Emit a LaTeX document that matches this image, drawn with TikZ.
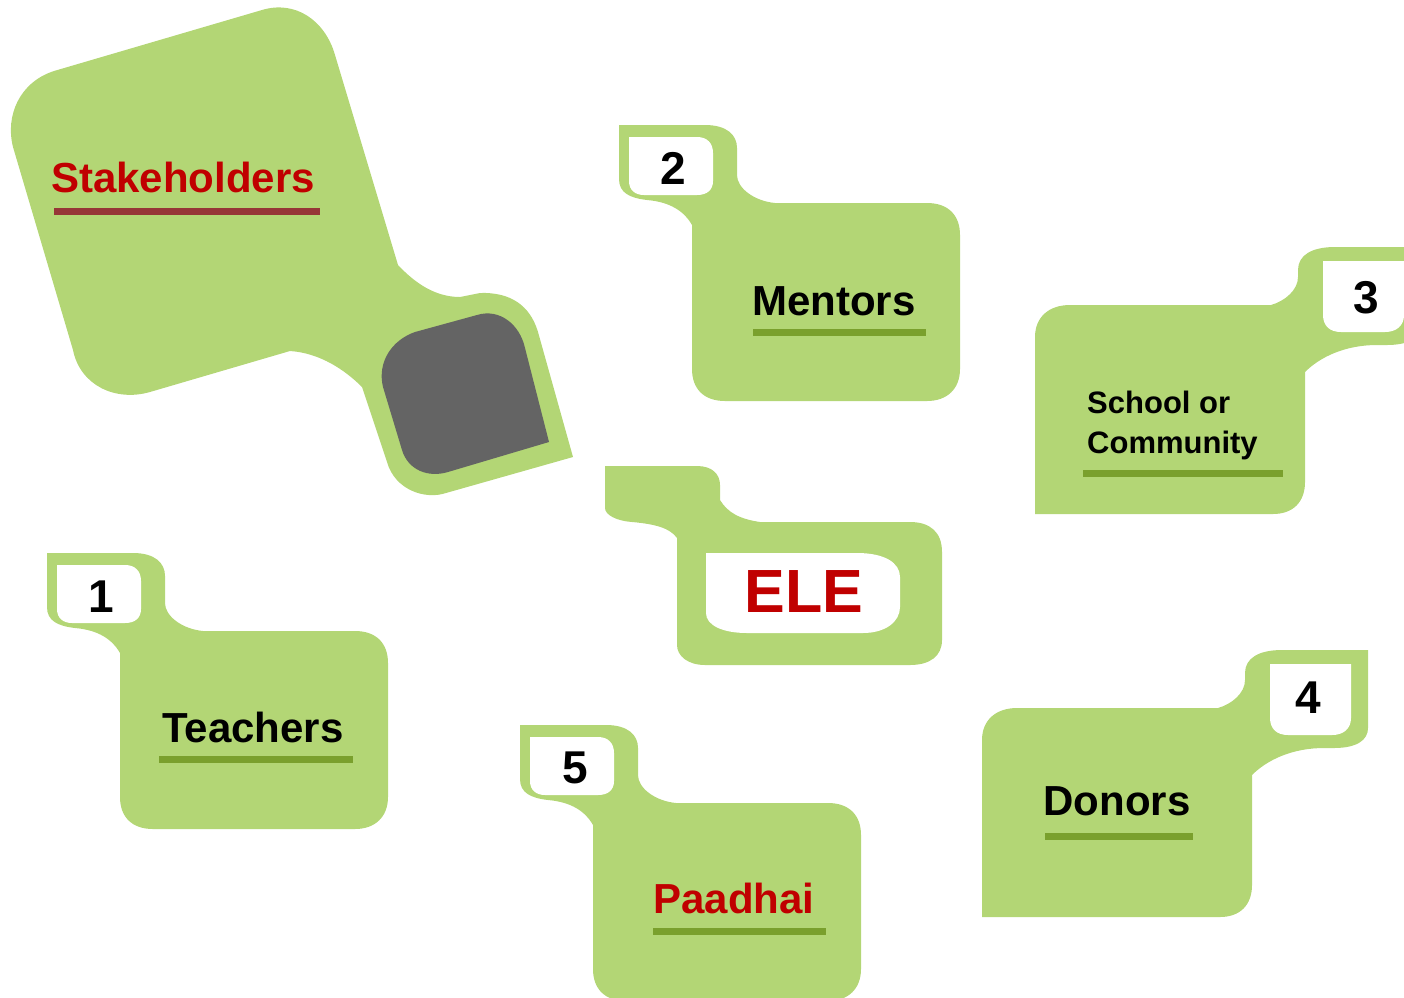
\documentclass[tikz,border=0pt]{standalone}
\usepackage{fontspec}
\setmainfont{Liberation Sans}

\definecolor{tabgreen}{RGB}{179,214,117}
\definecolor{linegreen}{RGB}{122,160,45}
\definecolor{titlered}{RGB}{192,0,0}
\definecolor{titleline}{RGB}{150,55,55}
\definecolor{holegray}{RGB}{100,100,100}

\tikzset{
  tagfill/.style={fill=tabgreen},
  lbl/.style={font=\fontsize{42}{50}\selectfont\bfseries, anchor=base, inner sep=0pt},
  num/.style={font=\fontsize{46}{50}\selectfont\bfseries, anchor=base, inner sep=0pt},
  uline/.style={fill=linegreen}
}

% tag with its tab at the upper left, shifted to the box's top left corner
\newcommand{\lefttag}[2]{%
\begin{scope}[shift={(#1,#2)}]
\fill[tagfill] (-73,-78) -- (13,-78) .. controls (35,-78) and (45,-68) .. (45,-55)
  -- (45,-28) .. controls (45,-15) and (62,-2) .. (83,0)
  -- (235,0) .. controls (256,0) and (268,12) .. (268,32)
  -- (268,166) .. controls (268,186) and (255,198) .. (235,198)
  -- (33,198) .. controls (12,198) and (0,186) .. (0,166)
  -- (0,22) .. controls (-8,8) and (-22,-1) .. (-45,-3)
  .. controls (-62,-5) and (-73,-10) .. (-73,-24) -- cycle;
\fill[white] (-63,-66) -- (5,-66) .. controls (15,-66) and (21,-60) .. (21,-50)
  -- (21,-22) .. controls (21,-13) and (15,-8) .. (5,-8)
  -- (-48,-8) .. controls (-57,-8) and (-63,-13) .. (-63,-22) -- cycle;
\end{scope}}

% tag with its tab at the upper right, shifted to the box's top right corner
\newcommand{\righttag}[2]{%
\begin{scope}[shift={(#1,#2)}]
\fill[tagfill] (-270,209) -- (-270,32) .. controls (-270,12) and (-256,0) .. (-235,0)
  -- (-34,0) .. controls (-20,-4) and (-7,-15) .. (-7,-28)
  -- (-7,-35) .. controls (-7,-50) and (7,-58) .. (30,-58)
  -- (116,-58) -- (116,20) .. controls (116,32) and (105,40) .. (82,40)
  -- (72,40) .. controls (40,40) and (15,52) .. (0,67)
  -- (0,177) .. controls (0,197) and (-12,209) .. (-32,209) -- cycle;
\fill[white] (18,-44) -- (99,-44) -- (99,10) .. controls (99,21) and (91,27) .. (80,27)
  -- (36,27) .. controls (25,27) and (18,21) .. (18,10) -- cycle;
\end{scope}}

\begin{document}
\begin{tikzpicture}[x=1pt,y=-1pt]
\useasboundingbox (0,0) rectangle (1404,997);
\begin{scope}
\clip (0,0) rectangle (1404,997);

% stakeholders
\fill[tagfill] (54,71) -- (262,10) .. controls (295,0) and (325,20) .. (335,55)
  -- (398,265) .. controls (415,283) and (435,297) .. (460,297)
  -- (480,293) .. controls (510,292) and (530,305) .. (538,332)
  -- (573,457) -- (446,493) .. controls (425,500) and (395,490) .. (387,462)
  -- (362,387) .. controls (345,370) and (320,353) .. (290,351)
  -- (150,392) .. controls (115,402) and (80,385) .. (73,350)
  -- (13,147) .. controls (5,115) and (20,82) .. (54,71) -- cycle;
\fill[holegray] (415,332) -- (477,315) .. controls (500,308) and (520,325) .. (525,348)
  -- (549,442) -- (448,472) .. controls (428,478) and (408,470) .. (402,450)
  -- (383,387) .. controls (377,362) and (392,340) .. (415,332) -- cycle;
\node[lbl, text=titlered] (stake) at (183,192) {Stakeholders};
\fill[titleline] (54,208) rectangle (320,215);

% ELE
\fill[tagfill] (605,466) -- (697,466) .. controls (712,466) and (720,474) .. (720,485)
  -- (720,500) .. controls (728,513) and (740,519) .. (760,522)
  -- (910,522) .. controls (930,522) and (942,532) .. (942,552)
  -- (942,640) .. controls (942,656) and (930,665) .. (910,665)
  -- (705,665) .. controls (688,665) and (677,656) .. (677,645)
  -- (677,538) .. controls (670,528) and (655,524) .. (632,522)
  .. controls (617,521) and (605,515) .. (605,508) -- cycle;
\fill[white] (706,553) -- (857,553) .. controls (885,553) and (900,563) .. (900,577)
  -- (900,607) .. controls (900,622) and (885,633) .. (863,633)
  -- (747,633) .. controls (722,633) and (706,625) .. (706,613) -- cycle;
\node[lbl, text=titlered, font=\fontsize{61}{70}\selectfont\bfseries] (ele) at (804,612) {ELE};

% teachers
\lefttag{120}{631}
\node[num] (n1) at (101,612) {1};
\node[lbl] (teachers) at (253,742) {Teachers};
\fill[uline] (159,756) rectangle (353,763);

% mentors
\lefttag{692}{203}
\node[num] (n2) at (673,184) {2};
\node[lbl] (mentors) at (834,315) {Mentors};
\fill[uline] (753,329) rectangle (926,336);

% paadhai
\lefttag{593}{803}
\node[num] (n5) at (575,783) {5};
\node[lbl, text=titlered] (paadhai) at (734,913) {Paadhai};
\fill[uline] (653,928) rectangle (826,935);

% school or community
\righttag{1305}{305}
\node[num] (n3) at (1366,313) {3};
\node[lbl, anchor=base west, font=\fontsize{31}{38}\selectfont\bfseries] (school) at (1087,413) {School or};
\node[lbl, anchor=base west, font=\fontsize{31}{38}\selectfont\bfseries] (community) at (1087,453) {Community};
\fill[uline] (1083,470) rectangle (1283,477);

% donors
\righttag{1252}{708}
\node[num] (n4) at (1308,713) {4};
\node[lbl] (donors) at (1117,815) {Donors};
\fill[uline] (1045,833) rectangle (1193,840);
\end{scope}
\end{tikzpicture}
\end{document}
